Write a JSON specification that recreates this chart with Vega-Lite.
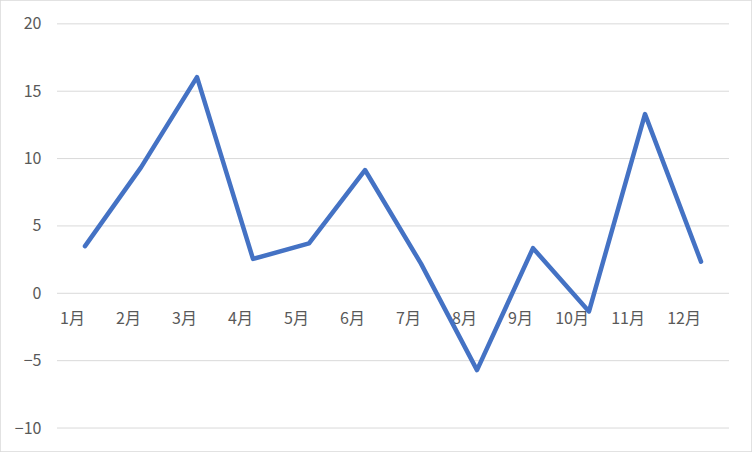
{
  "$schema": "https://vega.github.io/schema/vega-lite/v6.json",
  "width": 752,
  "height": 452,
  "autosize": {"type": "none"},
  "padding": 0,
  "background": "white",
  "config": {
    "view": {"stroke": "#d9d9d9", "strokeWidth": 1.5},
    "font": "Noto Sans CJK SC"
  },
  "datasets": {
    "series": [
      {"month": "1月", "value": 3.5},
      {"month": "2月", "value": 9.35},
      {"month": "3月", "value": 16.05},
      {"month": "4月", "value": 2.55},
      {"month": "5月", "value": 3.7},
      {"month": "6月", "value": 9.15},
      {"month": "7月", "value": 2.2},
      {"month": "8月", "value": -5.7},
      {"month": "9月", "value": 3.35},
      {"month": "10月", "value": -1.35},
      {"month": "11月", "value": 13.3},
      {"month": "12月", "value": 2.35}
    ],
    "grid": [
      {"level": -10}, {"level": -5}, {"level": 0}, {"level": 5},
      {"level": 10}, {"level": 15}, {"level": 20}
    ]
  },
  "layer": [
    {
      "data": {"name": "grid"},
      "mark": {"type": "rule", "color": "#d9d9d9", "strokeWidth": 1},
      "encoding": {
        "x": {"datum": "1月", "bandPosition": 0, "type": "nominal"},
        "x2": {"datum": "12月", "bandPosition": 1},
        "y": {"field": "level", "type": "quantitative"}
      }
    },
    {
      "data": {"name": "series"},
      "mark": {"type": "line", "color": "#4472C4", "strokeWidth": 4.5, "strokeJoin": "round", "strokeCap": "round"},
      "encoding": {
        "x": {
          "field": "month",
          "type": "nominal",
          "sort": null,
          "scale": {
            "domain": ["1月", "2月", "3月", "4月", "5月", "6月", "7月", "8月", "9月", "10月", "11月", "12月"],
            "paddingInner": 0, "paddingOuter": 0.7142857, "align": 0.7125
          },
          "axis": {
            "orient": "bottom",
            "offset": -159,
            "title": null,
            "labelAngle": 0,
            "domain": false,
            "ticks": false,
            "tickSize": 0,
            "grid": false,
            "labelPadding": 25,
            "labelBaseline": "middle",
            "labelFontSize": 16,
            "labelColor": "#595959"
          }
        },
        "y": {
          "field": "value",
          "type": "quantitative",
          "scale": {"domain": [-11.78, 21.77], "nice": false, "zero": false},
          "axis": {
            "orient": "left",
            "offset": -57,
            "title": null,
            "values": [-10, -5, 0, 5, 10, 15, 20],
            "domain": false,
            "ticks": false,
            "tickSize": 0,
            "grid": false,
            "labelPadding": 16,
            "labelFontSize": 16,
            "labelColor": "#595959"
          }
        }
      }
    }
  ]
}
